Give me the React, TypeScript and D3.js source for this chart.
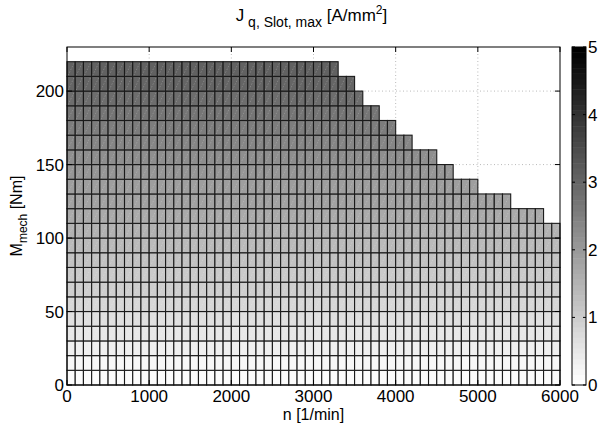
import React from "react";
import * as d3 from "d3";

// Torque rows (lower edge, Nm), each 10 Nm high
const torqueRows = [0, 10, 20, 30, 40, 50, 60, 70, 80, 90, 100, 110, 120, 130, 140, 150, 160, 170, 180, 190, 200, 210];
// Max speed reached per torque row (1/min)
const maxSpeedPerRow = [6000, 6000, 6000, 6000, 6000, 6000, 6000, 6000, 6000, 6000, 6000, 5800, 5400, 5000, 4700, 4500, 4200, 4000, 3800, 3600, 3500, 3300];
// Current density per torque row (A/mm^2)
const jPerRow = [0.08, 0.22, 0.36, 0.5, 0.65, 0.79, 0.94, 1.08, 1.23, 1.37, 1.52, 1.66, 1.81, 1.95, 2.1, 2.25, 2.39, 2.54, 2.68, 2.83, 2.98, 3.12];
const speedStep = 100;
const torqueStep = 10;

const xTicks = [0, 1000, 2000, 3000, 4000, 5000, 6000];
const yTicks = [0, 50, 100, 150, 200];
const cTicks = [0, 1, 2, 3, 4, 5];

const W = 599, H = 423;
const L = 67, R = 560, T = 47, B = 385;
const CB_L = 572, CB_R = 586;

export default function App() {
  const x = d3.scaleLinear().domain([0, 6000]).range([L, R]);
  const y = d3.scaleLinear().domain([0, 230]).range([B, T]);
  const cy = d3.scaleLinear().domain([0, 5]).range([B, T]);
  const levels = 64;
  const color = (v: number) => {
    const q = Math.min(levels - 1, Math.floor((v / 5) * levels));
    const g = Math.round(255 * (1 - q / (levels - 1)));
    return `rgb(${g},${g},${g})`;
  };

  const cells: { n: number; m: number; v: number }[] = [];
  torqueRows.forEach((m, i) => {
    for (let n = 0; n < maxSpeedPerRow[i]; n += speedStep) {
      cells.push({ n, m, v: jPerRow[i] });
    }
  });

  const font = "Liberation Sans, Arial, Helvetica, sans-serif";
  const cbSteps = d3.range(levels);

  return (
    <svg width={W} height={H} style={{ position: "absolute", left: 0, top: 0 }} fontFamily={font}>
      <rect x={0} y={0} width={W} height={H} fill="#fff" />
      {/* grid */}
      {xTicks.slice(1, -1).map((t) => (
        <line key={"gx" + t} x1={x(t)} x2={x(t)} y1={T} y2={B} stroke="#aaa" strokeWidth={0.8} strokeDasharray="1,2.5" />
      ))}
      {yTicks.slice(1).map((t) => (
        <line key={"gy" + t} x1={L} x2={R} y1={y(t)} y2={y(t)} stroke="#aaa" strokeWidth={0.8} strokeDasharray="1,2.5" />
      ))}
      {/* cells */}
      {cells.map((c, i) => {
        const x0 = x(c.n), x1 = x(c.n + speedStep), y0 = y(c.m), y1 = y(c.m + torqueStep);
        return (
          <g key={i}>
            <rect x={x0} y={y1} width={x1 - x0} height={y0 - y1} fill={color(c.v)} stroke="#1a1a1a" strokeWidth={1.1} />
            <line x1={x0 + 1} y1={y0 - 1} x2={x1 - 1} y2={y1 + 1} stroke="rgba(255,255,255,0.28)" strokeWidth={0.7} strokeDasharray="1.5,1.5" />
          </g>
        );
      })}
      {/* axes box */}
      <rect x={L} y={T} width={R - L} height={B - T} fill="none" stroke="#000" strokeWidth={1} />
      {xTicks.map((t) => (
        <g key={"xt" + t}>
          <line x1={x(t)} x2={x(t)} y1={B} y2={B - 5} stroke="#000" />
          <line x1={x(t)} x2={x(t)} y1={T} y2={T + 5} stroke="#000" />
          <text x={x(t)} y={B + 17} fontSize={17} textAnchor="middle">{t}</text>
        </g>
      ))}
      {yTicks.map((t) => (
        <g key={"yt" + t}>
          <line x1={L} x2={L + 5} y1={y(t)} y2={y(t)} stroke="#000" />
          <line x1={R} x2={R - 5} y1={y(t)} y2={y(t)} stroke="#000" />
          <text x={L - 3} y={y(t) + 6} fontSize={17} textAnchor="end">{t}</text>
        </g>
      ))}
      {/* labels */}
      <text x={(L + R) / 2} y={420} fontSize={16} textAnchor="middle">n [1/min]</text>
      <text transform={`translate(22,${(T + B) / 2}) rotate(-90)`} fontSize={16} textAnchor="middle">
        M<tspan fontSize={12} dy={5}>mech</tspan><tspan dy={-5}> [Nm]</tspan>
      </text>
      <text x={(L + R) / 2 - 2} y={21} fontSize={17} textAnchor="middle">
        J<tspan fontSize={14} dy={6}>  q, Slot, max</tspan><tspan dy={-6}> [A/mm</tspan><tspan fontSize={12} dy={-7}>2</tspan><tspan dy={7}>]</tspan>
      </text>
      {/* colorbar */}
      {cbSteps.map((k) => (
        <rect key={"cb" + k} x={CB_L} width={CB_R - CB_L} y={cy(((k + 1) / levels) * 5)} height={cy(0) - cy(5 / levels) + 0.5}
          fill={color(((k + 0.5) / levels) * 5)} />
      ))}
      <rect x={CB_L} y={T} width={CB_R - CB_L} height={B - T} fill="none" stroke="#000" strokeWidth={1} />
      {cTicks.map((t) => (
        <g key={"ct" + t}>
          <line x1={CB_L} x2={CB_L + 3} y1={cy(t)} y2={cy(t)} stroke="#000" />
          <line x1={CB_R} x2={CB_R - 3} y1={cy(t)} y2={cy(t)} stroke="#000" />
          <text x={CB_R + 2} y={cy(t) + 6} fontSize={17}>{t}</text>
        </g>
      ))}
    </svg>
  );
}
